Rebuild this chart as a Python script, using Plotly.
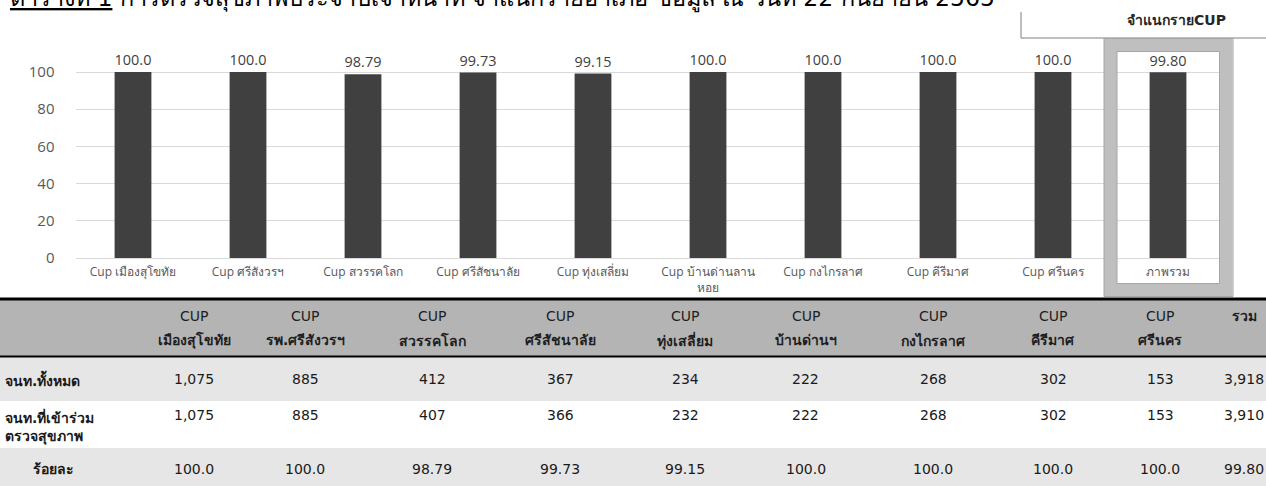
import plotly.graph_objects as go

W, H = 1266, 486

categories = ["Cup เมืองสุโขทัย", "Cup ศรีสังวรฯ", "Cup สวรรคโลก", "Cup ศรีสัชนาลัย",
              "Cup ทุ่งเสลี่ยม", "Cup บ้านด่านลาน<br>หอย", "Cup กงไกรลาศ", "Cup คีรีมาศ",
              "Cup ศรีนคร", "ภาพรวม"]
percent = [100.0, 100.0, 98.79, 99.73, 99.15, 100.0, 100.0, 100.0, 100.0, 99.80]
percent_labels = ["100.0", "100.0", "98.79", "99.73", "99.15", "100.0", "100.0",
                  "100.0", "100.0", "99.80"]
y_ticks = [0, 20, 40, 60, 80, 100]

table_head_top = ["CUP", "CUP", "CUP", "CUP", "CUP", "CUP", "CUP", "CUP", "CUP", "รวม"]
table_head_bottom = ["เมืองสุโขทัย", "รพ.ศรีสังวรฯ", "สวรรคโลก", "ศรีสัชนาลัย", "ทุ่งเสลี่ยม",
                     "บ้านด่านฯ", "กงไกรลาศ", "คีรีมาศ", "ศรีนคร", ""]
staff_total = [1075, 885, 412, 367, 234, 222, 268, 302, 153, 3918]
staff_checked = [1075, 885, 407, 366, 232, 222, 268, 302, 153, 3910]
row_labels = ["จนท.ทั้งหมด", "จนท.ที่เข้าร่วม<br>ตรวจสุขภาพ", "ร้อยละ"]

title_text = ("<u>ตารางที่ 1</u> การตรวจสุขภาพประจำปีเจ้าหน้าที่ จำแนกรายอำเภอ "
              "ข้อมูล ณ วันที่ 22 กันยายน 2565")
box_label = "<b>จำแนกรายCUP</b>"

# ---- layout helpers (pixel -> paper) ----
def px(x):
    return x / W

def py(y):
    return 1 - y / H

FONT = "Tahoma, 'DejaVu Sans', 'Noto Sans', sans-serif"
CH_FONT = "'Segoe UI', 'Open Sans', 'Noto Sans', sans-serif"

fig = go.Figure()
fig.add_trace(go.Bar(
    x=categories, y=percent,
    text=percent_labels, textposition="outside", cliponaxis=False,
    textfont=dict(size=15, color="#404040", family=CH_FONT),
    marker=dict(color="#404040", line=dict(width=0)),
    hoverinfo="skip",
))

plot_left, plot_right = 75.5, 1225.5
y_zero, y_hundred, plot_top = 258, 72, 40
ymax = (y_zero - plot_top) / ((y_zero - y_hundred) / 100)

fig.update_layout(
    width=W, height=H, autosize=False,
    margin=dict(l=0, r=0, t=0, b=0),
    paper_bgcolor="white", plot_bgcolor="white",
    showlegend=False, bargap=0.68,
    xaxis=dict(domain=[px(plot_left), px(plot_right)], showgrid=False,
               showline=False, ticks="", automargin=False, ticklabelstandoff=5,
               tickfont=dict(size=12, color="#595959", family=CH_FONT),
               fixedrange=True),
    yaxis=dict(domain=[py(y_zero), py(plot_top)], range=[0, ymax],
               tickvals=y_ticks, showgrid=True, gridcolor="#d9d9d9", gridwidth=1,
               zeroline=True, zerolinecolor="#d9d9d9", zerolinewidth=1,
               showline=False, ticks="", automargin=False, ticklabelstandoff=20,
               tickfont=dict(size=15, color="#595959", family=CH_FONT),
               fixedrange=True),
)

shapes = []
anns = []

# title (cut off at top like the reference)
anns.append(dict(text=title_text, x=px(8), y=py(15), xref="paper", yref="paper",
                 xanchor="left", yanchor="bottom", showarrow=False,
                 font=dict(size=23.5, color="#000000", family=FONT)))

# "จำแนกรายCUP" label with bracket lines
shapes.append(dict(type="line", xref="paper", yref="paper", x0=px(1021), x1=px(1021),
                   y0=py(12), y1=py(38), line=dict(color="#7f7f7f", width=1)))
shapes.append(dict(type="line", xref="paper", yref="paper", x0=px(1021), x1=px(1266),
                   y0=py(38), y1=py(38), line=dict(color="#7f7f7f", width=1)))
anns.append(dict(text=box_label, x=px(1176), y=py(20), xref="paper", yref="paper",
                 xanchor="center", yanchor="middle", showarrow=False,
                 font=dict(size=14, color="#262626", family=FONT)))

# highlight box around overall bar
shapes.append(dict(type="rect", xref="paper", yref="paper", x0=px(1110.5), x1=px(1226),
                   y0=py(290), y1=py(45), line=dict(color="#bfbfbf", width=13),
                   fillcolor="rgba(0,0,0,0)"))
shapes.append(dict(type="rect", xref="paper", yref="paper", x0=px(1104), x1=px(1233),
                   y0=py(296.5), y1=py(38.5), line=dict(color="#a6a6a6", width=1)))
shapes.append(dict(type="rect", xref="paper", yref="paper", x0=px(1117), x1=px(1219.5),
                   y0=py(283.5), y1=py(51.5), line=dict(color="#a6a6a6", width=1)))

# ---- table ----
col_x = [194, 305, 432, 560, 685, 806, 933, 1053, 1160, 1244]

# bands
shapes.append(dict(type="rect", xref="paper", yref="paper", x0=0, x1=1, y0=py(357),
                   y1=py(299), fillcolor="#b4b4b4", line=dict(width=0), layer="below"))
shapes.append(dict(type="rect", xref="paper", yref="paper", x0=0, x1=1, y0=py(401),
                   y1=py(357), fillcolor="#e6e6e6", line=dict(width=0), layer="below"))
shapes.append(dict(type="rect", xref="paper", yref="paper", x0=0, x1=1, y0=py(486),
                   y1=py(448), fillcolor="#e6e6e6", line=dict(width=0), layer="below"))
shapes.append(dict(type="line", xref="paper", yref="paper", x0=0, x1=1, y0=py(299),
                   y1=py(299), line=dict(color="#000000", width=3)))
shapes.append(dict(type="line", xref="paper", yref="paper", x0=0, x1=1, y0=py(356.5),
                   y1=py(356.5), line=dict(color="#000000", width=2)))

for i, cx in enumerate(col_x):
    anns.append(dict(text=table_head_top[i] if i < 9 else "<b>" + table_head_top[i] + "</b>",
                     x=px(cx), y=py(316), xref="paper", yref="paper",
                     xanchor="center", yanchor="middle", showarrow=False,
                     font=dict(size=14, color="#1f1f1f", family=FONT)))
    if table_head_bottom[i]:
        anns.append(dict(text="<b>" + table_head_bottom[i] + "</b>", x=px(cx), y=py(340),
                         xref="paper", yref="paper", xanchor="center", yanchor="middle",
                         showarrow=False, font=dict(size=14, color="#1f1f1f", family=FONT)))
    anns.append(dict(text=f"{staff_total[i]:,}", x=px(cx), y=py(379), xref="paper",
                     yref="paper", xanchor="center", yanchor="middle", showarrow=False,
                     font=dict(size=14, color="#1a1a1a", family=FONT)))
    anns.append(dict(text=f"{staff_checked[i]:,}", x=px(cx), y=py(415), xref="paper",
                     yref="paper", xanchor="center", yanchor="middle", showarrow=False,
                     font=dict(size=14, color="#1a1a1a", family=FONT)))
    anns.append(dict(text=percent_labels[i], x=px(cx), y=py(469), xref="paper",
                     yref="paper", xanchor="center", yanchor="middle", showarrow=False,
                     font=dict(size=14, color="#1a1a1a", family=FONT)))

anns.append(dict(text="<b>" + row_labels[0] + "</b>", x=px(3), y=py(379), xref="paper",
                 yref="paper", xanchor="left", yanchor="middle", showarrow=False,
                 font=dict(size=14, color="#1a1a1a", family=FONT)))
anns.append(dict(text="<b>" + row_labels[1] + "</b>", x=px(3), y=py(426), xref="paper",
                 yref="paper", xanchor="left", yanchor="middle", showarrow=False,
                 align="left", font=dict(size=14, color="#1a1a1a", family=FONT)))
anns.append(dict(text="<b>" + row_labels[2] + "</b>", x=px(53), y=py(469), xref="paper",
                 yref="paper", xanchor="center", yanchor="middle", showarrow=False,
                 font=dict(size=14, color="#1a1a1a", family=FONT)))

fig.update_layout(shapes=shapes, annotations=anns)
fig.write_html("out.html",
               config={"displayModeBar": False, "staticPlot": True},
               post_script="document.body.style.margin='0px';"
                           "document.body.style.padding='0px';"
                           "document.body.style.overflow='hidden';")
